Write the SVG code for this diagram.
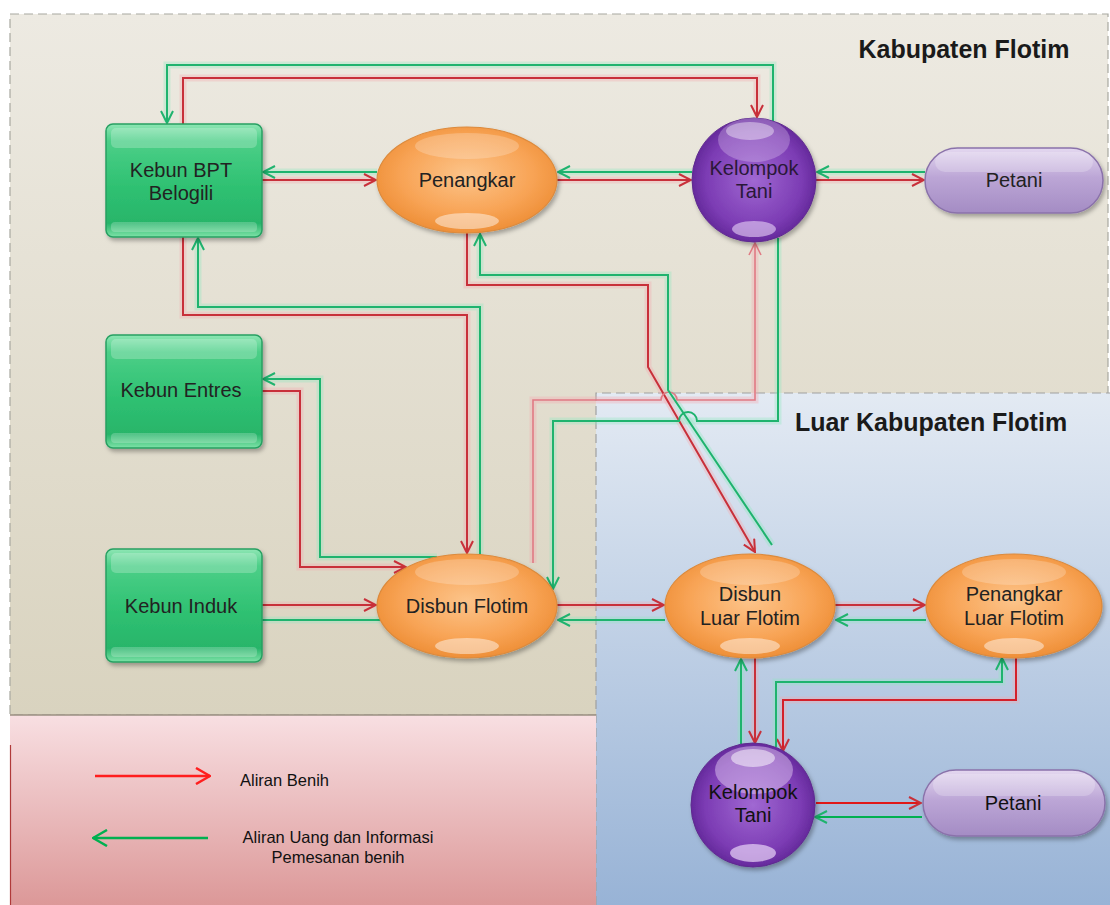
<svg xmlns="http://www.w3.org/2000/svg" width="1110" height="905" viewBox="0 0 1110 905">
<style>
  text { font-family: "Liberation Sans", Arial, sans-serif; font-size: 20px; fill: #222; text-anchor: middle; }
  .title { font-size: 25px; font-weight: bold; fill: #1a1a1a; }
  .leg { font-size: 16.5px; fill: #111; }
  .r { fill: none; stroke: #c8303a; stroke-width: 2; marker-end: url(#aR); }
  .g { fill: none; stroke: #1fb36e; stroke-width: 2; marker-end: url(#aG); }
  .rp { fill: none; stroke: #e07a84; stroke-width: 1.6; marker-end: url(#aRp); }
  .hr { fill: none; stroke: #f4a8b0; stroke-width: 7; opacity: 0.35; }
  .hg { fill: none; stroke: #8fe8c0; stroke-width: 7; opacity: 0.35; }
  .gb { fill: url(#gGreen); stroke: #27a062; stroke-width: 1.5; }
  .ob { fill: url(#gOrange); stroke: #dc8a3c; stroke-width: 1.2; }
  .pb { fill: url(#gPurple); stroke: #5e2a8e; stroke-width: 1; }
  .pt { fill: url(#gPill); stroke: #8a72aa; stroke-width: 1.5; }
  .hl { fill: #ffffff; opacity: 0.22; }
  .hl2 { fill: #ffffff; opacity: 0.45; }
</style>
<defs>
  <linearGradient id="gBeige" x1="0" y1="0" x2="0" y2="1">
    <stop offset="0" stop-color="#edeae2"/>
    <stop offset="1" stop-color="#d9d3bf"/>
  </linearGradient>
  <linearGradient id="gBlue" x1="0" y1="0" x2="0" y2="1">
    <stop offset="0" stop-color="#e3eaf3"/>
    <stop offset="1" stop-color="#98b3d6"/>
  </linearGradient>
  <linearGradient id="gPink" x1="0" y1="0" x2="0" y2="1">
    <stop offset="0" stop-color="#f8dfe2"/>
    <stop offset="1" stop-color="#dc9898"/>
  </linearGradient>
  <linearGradient id="gGreen" x1="0" y1="0" x2="0" y2="1">
    <stop offset="0" stop-color="#8ee6b4"/>
    <stop offset="0.15" stop-color="#4ccf88"/>
    <stop offset="0.55" stop-color="#2fc172"/>
    <stop offset="0.88" stop-color="#28b56a"/>
    <stop offset="1" stop-color="#7ee2a8"/>
  </linearGradient>
  <radialGradient id="gOrange" cx="0.5" cy="0.45" r="0.6">
    <stop offset="0" stop-color="#fcc48a"/>
    <stop offset="0.6" stop-color="#f8a456"/>
    <stop offset="1" stop-color="#ec8a30"/>
  </radialGradient>
  <radialGradient id="gPurple" cx="0.5" cy="0.5" r="0.55">
    <stop offset="0" stop-color="#a068d2"/>
    <stop offset="0.7" stop-color="#7c3cb4"/>
    <stop offset="1" stop-color="#5c2292"/>
  </radialGradient>
  <linearGradient id="gPill" x1="0" y1="0" x2="0" y2="1">
    <stop offset="0" stop-color="#e4d8f0"/>
    <stop offset="0.45" stop-color="#bca6d6"/>
    <stop offset="1" stop-color="#a48cc4"/>
  </linearGradient>
  <filter id="sh" x="-20%" y="-20%" width="140%" height="150%">
    <feDropShadow dx="2" dy="3" stdDeviation="2" flood-color="#000" flood-opacity="0.3"/>
  </filter>
  <marker id="aR" viewBox="0 0 14 14" refX="13" refY="7" markerWidth="14" markerHeight="14" markerUnits="userSpaceOnUse" orient="auto">
    <path d="M1,1 L13,7 L1,13" fill="none" stroke="#c8303a" stroke-width="2"/>
  </marker>
  <marker id="aRp" viewBox="0 0 14 14" refX="13" refY="7" markerWidth="14" markerHeight="14" markerUnits="userSpaceOnUse" orient="auto">
    <path d="M1,1 L13,7 L1,13" fill="none" stroke="#e07a84" stroke-width="1.6"/>
  </marker>
  <marker id="aG" viewBox="0 0 14 14" refX="13" refY="7" markerWidth="14" markerHeight="14" markerUnits="userSpaceOnUse" orient="auto">
    <path d="M1,1 L13,7 L1,13" fill="none" stroke="#1fb36e" stroke-width="2"/>
  </marker>
  <marker id="aLR" viewBox="0 0 16 18" refX="15" refY="9" markerWidth="16" markerHeight="18" markerUnits="userSpaceOnUse" orient="auto">
    <path d="M1,1 L15,9 L1,17" fill="none" stroke="#ff1e1e" stroke-width="2.5"/>
  </marker>
  <marker id="aLG" viewBox="0 0 16 18" refX="15" refY="9" markerWidth="16" markerHeight="18" markerUnits="userSpaceOnUse" orient="auto">
    <path d="M1,1 L15,9 L1,17" fill="none" stroke="#00b050" stroke-width="2.5"/>
  </marker>
</defs>

<!-- Regions -->
<g id="regions">
  <rect x="0" y="0" width="1110" height="905" fill="#ffffff"/>
  <rect x="10" y="14" width="1098" height="701" fill="url(#gBeige)" stroke="#a8a8a0" stroke-width="1.2" stroke-dasharray="9 5"/>
  <rect x="596" y="393" width="514" height="512" fill="url(#gBlue)"/>
  <path d="M596,905 V393 H1110" fill="none" stroke="#a0a0a0" stroke-width="1.2" stroke-dasharray="9 5"/>
  <rect x="10" y="715" width="586" height="190" fill="url(#gPink)"/>
  <line x1="10" y1="715" x2="596" y2="715" stroke="#9a8f80" stroke-width="1.5"/>
  <line x1="10.5" y1="745" x2="10.5" y2="905" stroke="#b03a3a" stroke-width="1.2"/>
  <text class="title" x="964" y="58">Kabupaten Flotim</text>
  <text class="title" x="931" y="431">Luar Kabupaten Flotim</text>
</g>

<!-- Connectors -->
<g id="connectors">
  <g id="halos">
    <path class="hr" d="M183,124 V78 H757 V116"/>
    <path class="hg" d="M773,121 V65 H167 V122"/>
    <path class="hr" d="M262,180 H375"/>
    <path class="hg" d="M377,172 H264"/>
    <path class="hr" d="M557,180 H690"/>
    <path class="hg" d="M692,172 H559"/>
    <path class="hr" d="M816,180 H923"/>
    <path class="hg" d="M925,172 H818"/>
    <path class="hr" d="M183,237 V315 H467 V552"/>
    <path class="hg" d="M480,554 V307 H198 V239"/>
    <path class="hr" d="M262,391 H300 V567 H405"/>
    <path class="hg" d="M437,557 H320 V379 H264"/>
    <path class="hr" d="M262,605 H375"/>
    <path class="hg" d="M380,620 H262"/>
    <path class="hr" d="M557,605 H663"/>
    <path class="hg" d="M665,620 H559"/>
    <path class="hr" d="M835,605 H924"/>
    <path class="hg" d="M926,620 H837"/>
    <path class="hr" d="M467,233 V285 H648 V367 L754,550"/>
    <path class="hg" d="M772,545 L668,390 V275 H480 V235"/>
    <path class="hr" d="M533,563 V400 H755 V244"/>
    <path class="hg" d="M778,238 V421 H553 V588"/>
    <path class="hr" d="M755,658 V742"/>
    <path class="hg" d="M741,744 V660"/>
    <path class="hr" d="M1016,658 V700 H783 V749"/>
    <path class="hg" d="M776,747 V682 H1002 V659"/>
  </g>
  <!-- Red: seed flow -->
  <path class="r" d="M183,124 V78 H757 V117"/>
  <path class="r" d="M262,180 H376"/>
  <path class="r" d="M557,180 H691"/>
  <path class="r" d="M816,180 H924"/>
  <path class="r" d="M183,237 V315 H467 V553"/>
  <path class="r" d="M262,391 H300 V567 H406"/>
  <path class="r" d="M262,605 H376"/>
  <path class="r" d="M557,605 H664"/>
  <path class="r" d="M835,605 H925"/>
  <path class="r" d="M467,233 V285 H648 V367 L755,552"/>
  <path class="rp" d="M533,563 V400 H661 A8,8 0 0 1 677,400 H755 V243"/>
  <path class="r" d="M755,658 V743"/>
  <path class="r" style="stroke:#d4202a" d="M1016,658 V700 H783 V751"/>
  <path class="r" style="stroke:#e01818" d="M816,803 H921"/>
  <!-- Green: money & order information -->
  <path class="g" d="M773,121 V65 H167 V123"/>
  <path class="g" d="M377,172 H263"/>
  <path class="g" d="M692,172 H558"/>
  <path class="g" d="M925,172 H817"/>
  <path class="g" d="M480,554 V307 H198 V238"/>
  <path class="g" d="M437,557 H320 V379 H263"/>
  <path class="g" style="marker-end:none" d="M380,620 H262"/>
  <path class="g" d="M665,620 H558"/>
  <path class="g" d="M926,620 H836"/>
  <path class="g" d="M772,545 L668,390 V275 H480 V234"/>
  <path class="g" d="M778,238 V421 H697 A9,9 0 0 0 679,421 H553 V589"/>
  <path class="g" d="M741,744 V659"/>
  <path class="g" d="M776,747 V682 H1002 V658"/>
  <path class="g" style="stroke:#00b050" d="M922,817 H815"/>
</g>

<!-- Nodes -->
<g id="kebun-bpt">
  <rect class="gb" x="106" y="124" width="156" height="113" rx="7" filter="url(#sh)"/>
  <rect class="hl" x="111" y="128" width="146" height="20" rx="5"/>
  <rect class="hl" x="111" y="222" width="146" height="10" rx="4"/>
  <text x="181" y="177">Kebun BPT</text>
  <text x="181" y="200">Belogili</text>
</g>
<g id="kebun-entres">
  <rect class="gb" x="106" y="335" width="156" height="113" rx="7" filter="url(#sh)"/>
  <rect class="hl" x="111" y="339" width="146" height="20" rx="5"/>
  <rect class="hl" x="111" y="433" width="146" height="10" rx="4"/>
  <text x="181" y="397">Kebun Entres</text>
</g>
<g id="kebun-induk">
  <rect class="gb" x="106" y="549" width="156" height="113" rx="7" filter="url(#sh)"/>
  <rect class="hl" x="111" y="553" width="146" height="20" rx="5"/>
  <rect class="hl" x="111" y="647" width="146" height="10" rx="4"/>
  <text x="181" y="613">Kebun Induk</text>
</g>
<g id="penangkar">
  <ellipse class="ob" cx="467" cy="180" rx="90" ry="53" filter="url(#sh)"/>
  <ellipse class="hl" cx="467" cy="146" rx="52" ry="13"/>
  <ellipse class="hl2" cx="467" cy="221" rx="32" ry="8"/>
  <text x="467" y="187">Penangkar</text>
</g>
<g id="kelompok-tani-1">
  <circle class="pb" cx="754" cy="180" r="62" filter="url(#sh)"/>
  <ellipse cx="754" cy="140" rx="36" ry="22" fill="#e8d4f6" opacity="0.3"/>
  <ellipse cx="750" cy="131" rx="24" ry="9" fill="#ffffff" opacity="0.4"/>
  <ellipse cx="754" cy="229" rx="22" ry="8" fill="#e8d4f6" opacity="0.6"/>
  <text x="754" y="175" style="fill:#2a1838">Kelompok</text>
  <text x="754" y="198" style="fill:#2a1838">Tani</text>
</g>
<g id="petani-1">
  <rect class="pt" x="925" y="148" width="178" height="65" rx="32.5" filter="url(#sh)"/>
  <rect class="hl" x="935" y="152" width="158" height="20" rx="10"/>
  <text x="1014" y="187">Petani</text>
</g>
<g id="disbun-flotim">
  <ellipse class="ob" cx="467" cy="606" rx="90" ry="52" filter="url(#sh)"/>
  <ellipse class="hl" cx="467" cy="572" rx="52" ry="13"/>
  <ellipse class="hl2" cx="467" cy="646" rx="32" ry="8"/>
  <text x="467" y="613">Disbun Flotim</text>
</g>
<g id="disbun-luar-flotim">
  <ellipse class="ob" cx="750" cy="606" rx="85" ry="52" filter="url(#sh)"/>
  <ellipse class="hl" cx="750" cy="572" rx="50" ry="13"/>
  <ellipse class="hl2" cx="750" cy="646" rx="30" ry="8"/>
  <text x="750" y="601">Disbun</text>
  <text x="750" y="625">Luar Flotim</text>
</g>
<g id="penangkar-luar-flotim">
  <ellipse class="ob" cx="1014" cy="606" rx="88" ry="52" filter="url(#sh)"/>
  <ellipse class="hl" cx="1014" cy="572" rx="52" ry="13"/>
  <ellipse class="hl2" cx="1014" cy="646" rx="30" ry="8"/>
  <text x="1014" y="601">Penangkar</text>
  <text x="1014" y="625">Luar Flotim</text>
</g>
<g id="kelompok-tani-2">
  <circle class="pb" cx="753" cy="805" r="62" filter="url(#sh)"/>
  <ellipse cx="754" cy="770" rx="39" ry="24" fill="#e8d4f6" opacity="0.45"/>
  <ellipse cx="753" cy="758" rx="22" ry="9" fill="#ffffff" opacity="0.5"/>
  <ellipse cx="753" cy="853" rx="23" ry="9" fill="#e8d4f6" opacity="0.7"/>
  <text x="753" y="799" style="fill:#111">Kelompok</text>
  <text x="753" y="822" style="fill:#111">Tani</text>
</g>
<g id="petani-2">
  <rect class="pt" x="923" y="770" width="182" height="66" rx="33" filter="url(#sh)"/>
  <rect class="hl" x="933" y="774" width="162" height="22" rx="11"/>
  <text x="1013" y="810" style="fill:#111">Petani</text>
</g>

<!-- Legend -->
<g id="legend">
  <line x1="95" y1="776" x2="210" y2="776" stroke="#ff1e1e" stroke-width="2.5" marker-end="url(#aLR)"/>
  <text class="leg" x="240" y="786" style="text-anchor:start">Aliran Benih</text>
  <line x1="208" y1="838" x2="93" y2="838" stroke="#00b050" stroke-width="2.5" marker-end="url(#aLG)"/>
  <text class="leg" x="338" y="843">Aliran Uang dan Informasi</text>
  <text class="leg" x="338" y="863">Pemesanan benih</text>
</g>
</svg>
